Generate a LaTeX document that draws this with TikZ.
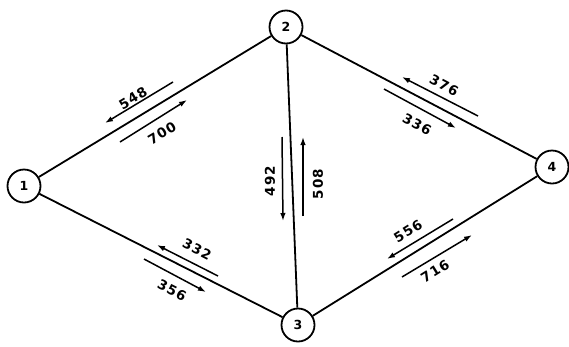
\documentclass[tikz,border=0pt]{standalone}
\usepackage{fontspec}
\setmainfont{DejaVu Sans}
\usetikzlibrary{arrows.meta}
\begin{document}
\begin{tikzpicture}[x=1pt,y=-1pt,
  vert/.style={circle,draw,line width=1.8pt,minimum size=33pt,inner sep=0pt,font=\bfseries\fontsize{12.5}{12.5}\selectfont},
  edge/.style={line width=1.8pt},
  flow/.style={line width=1.5pt,-{Latex[length=8pt,width=5.5pt]}},
  lbl/.style={font=\addfontfeature{LetterSpace=8}\bfseries\fontsize{13.5}{13.5}\selectfont,inner sep=0pt}]
\useasboundingbox (0,0) rectangle (569,346);
\node[vert] (n1) at (24,186) {1};
\node[vert] (n2) at (286,27) {2};
\node[vert] (n3) at (298,325) {3};
\node[vert] (n4) at (552,167) {4};
\draw[edge] (n1) -- (n2);
\draw[edge] (n2) -- (n4);
\draw[edge] (n1) -- (n3);
\draw[edge] (n3) -- (n4);
\draw[edge] (n2) -- (n3);
% 1-2
\coordinate (a1s) at (173,82); \coordinate (a1e) at (105,123);
\coordinate (a2s) at (120,142); \coordinate (a2e) at (187,100);
\draw[flow] (a1s) -- (a1e);
\draw[flow] (a2s) -- (a2e);
\node[lbl,rotate=31] (l548) at (133,98) {548};
\node[lbl,rotate=31] (l700) at (162,133) {700};
% 2-4
\coordinate (b1s) at (478,116); \coordinate (b1e) at (402,77);
\coordinate (b2s) at (384,89); \coordinate (b2e) at (456,128);
\draw[flow] (b1s) -- (b1e);
\draw[flow] (b2s) -- (b2e);
\node[lbl,rotate=-28] (l376) at (444,85) {376};
\node[lbl,rotate=-28] (l336) at (417,124) {336};
% 1-3
\coordinate (c1s) at (218,276); \coordinate (c1e) at (157,245);
\coordinate (c2s) at (144,259); \coordinate (c2e) at (206,292);
\draw[flow] (c1s) -- (c1e);
\draw[flow] (c2s) -- (c2e);
\node[lbl,rotate=-27] (l332) at (197,249) {332};
\node[lbl,rotate=-27] (l356) at (172,290) {356};
% 2-3
\coordinate (d1s) at (282,137); \coordinate (d1e) at (283,221);
\coordinate (d2s) at (303,216); \coordinate (d2e) at (303,137);
\draw[flow] (d1s) -- (d1e);
\draw[flow] (d2s) -- (d2e);
\node[lbl,rotate=90] (l492) at (270,181) {492};
\node[lbl,rotate=90] (l508) at (318,184) {508};
% 3-4
\coordinate (e1s) at (453,219); \coordinate (e1e) at (387,259);
\coordinate (e2s) at (402,277); \coordinate (e2e) at (472,235);
\draw[flow] (e1s) -- (e1e);
\draw[flow] (e2s) -- (e2e);
\node[lbl,rotate=32] (l556) at (408,231) {556};
\node[lbl,rotate=32] (l716) at (435,271) {716};
\end{tikzpicture}
\end{document}
